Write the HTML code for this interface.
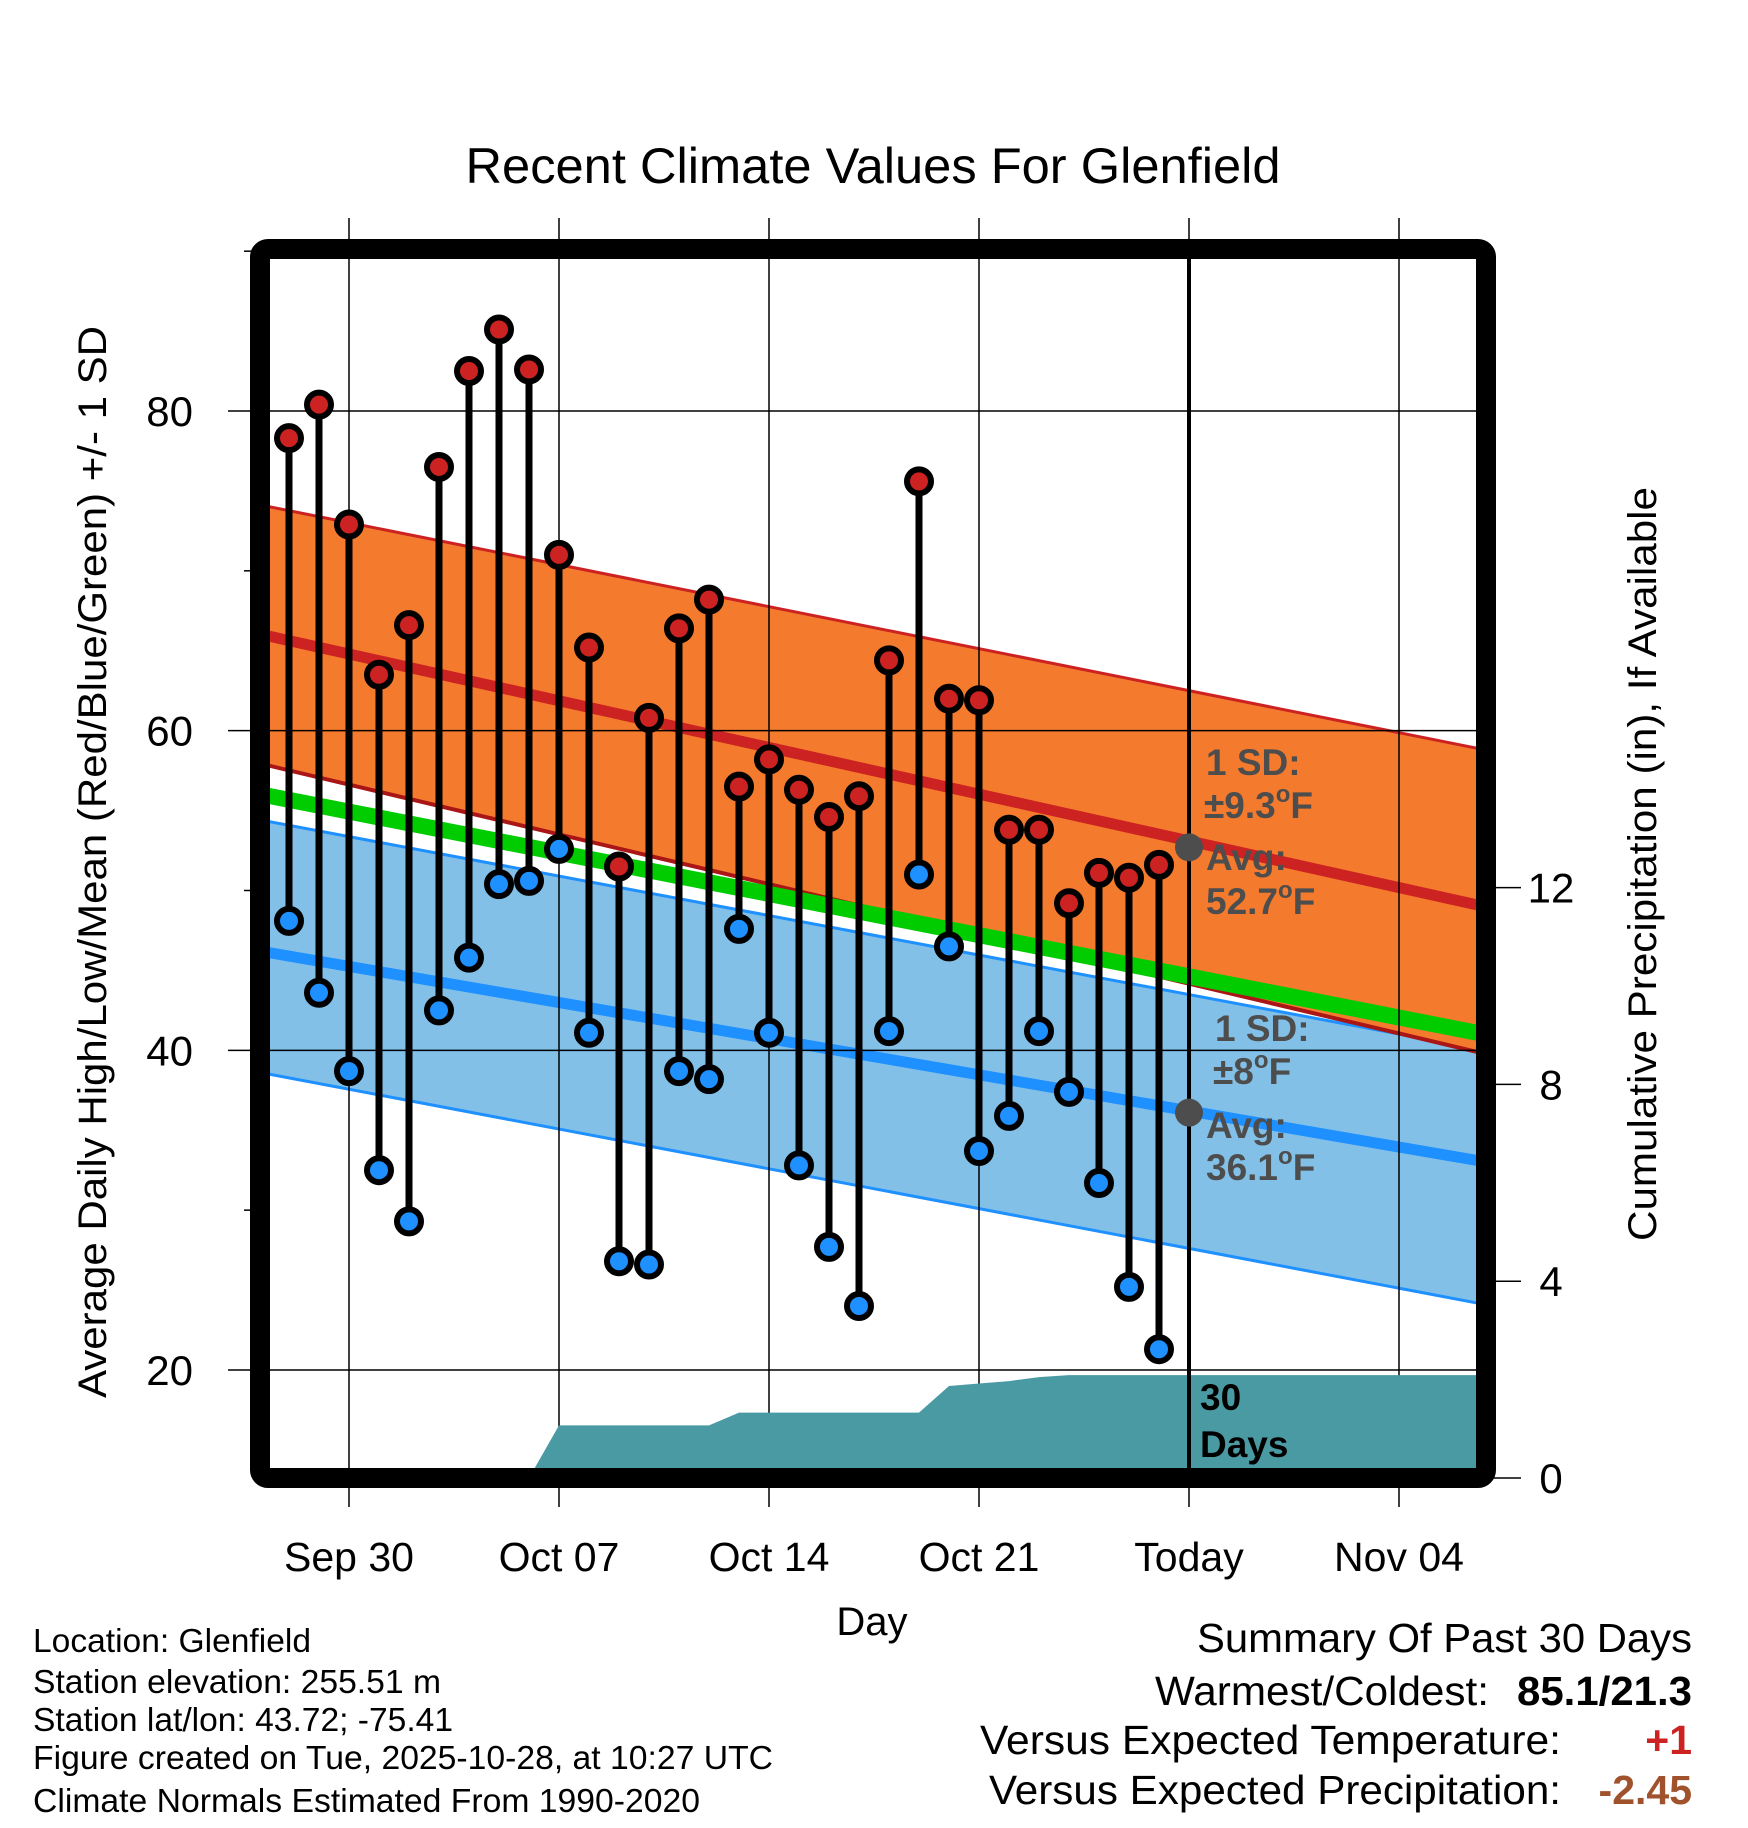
<!DOCTYPE html>
<html><head><meta charset="utf-8"><style>
html,body{margin:0;padding:0;background:#fff;}
svg{display:block;font-family:"Liberation Sans",Arial,sans-serif;}
</style></head><body>
<svg id="chart" width="1748" height="1828" viewBox="0 0 1748 1828" xmlns="http://www.w3.org/2000/svg">
<defs><clipPath id="plotClip"><rect x="270" y="259" width="1207" height="1209"/></clipPath></defs>
<g id="fills" clip-path="url(#plotClip)"></g>
<g id="grid"></g>
<g id="precip" clip-path="url(#plotClip)"></g>
<g id="marks"></g>
<rect x="260" y="249" width="1226" height="1229" rx="8" fill="none" stroke="#000" stroke-width="20"/>
<text x="873" y="183" text-anchor="middle" font-size="50" textLength="815" lengthAdjust="spacingAndGlyphs">Recent Climate Values For Glenfield</text>
<text transform="translate(106,862) rotate(-90)" text-anchor="middle" font-size="40" textLength="1072" lengthAdjust="spacingAndGlyphs">Average Daily High/Low/Mean (Red/Blue/Green) +/- 1 SD</text>
<text transform="translate(1656,864) rotate(-90)" text-anchor="middle" font-size="40" textLength="754" lengthAdjust="spacingAndGlyphs">Cumulative Precipitation (in), If Available</text>
<text x="872" y="1635" text-anchor="middle" font-size="40">Day</text>
<g font-size="33">
<text x="33" y="1652" textLength="278" lengthAdjust="spacingAndGlyphs">Location: Glenfield</text>
<text x="33" y="1693" textLength="408" lengthAdjust="spacingAndGlyphs">Station elevation: 255.51 m</text>
<text x="33" y="1731" textLength="420" lengthAdjust="spacingAndGlyphs">Station lat/lon: 43.72; -75.41</text>
<text x="33" y="1769" textLength="740" lengthAdjust="spacingAndGlyphs">Figure created on Tue, 2025-10-28, at 10:27 UTC</text>
<text x="33" y="1812" textLength="667" lengthAdjust="spacingAndGlyphs">Climate Normals Estimated From 1990-2020</text>
</g>
<g font-size="41">
<text x="1692" y="1652" text-anchor="end" textLength="495" lengthAdjust="spacingAndGlyphs">Summary Of Past 30 Days</text>
<text x="1489" y="1705" text-anchor="end" textLength="334" lengthAdjust="spacingAndGlyphs">Warmest/Coldest:</text>
<text x="1692" y="1705" text-anchor="end" font-weight="bold" textLength="175" lengthAdjust="spacingAndGlyphs">85.1/21.3</text>
<text x="1561" y="1754" text-anchor="end" textLength="581" lengthAdjust="spacingAndGlyphs">Versus Expected Temperature:</text>
<text x="1692" y="1754" text-anchor="end" font-weight="bold" fill="#cc2222">+1</text>
<text x="1561" y="1804" text-anchor="end" textLength="572" lengthAdjust="spacingAndGlyphs">Versus Expected Precipitation:</text>
<text x="1692" y="1804" text-anchor="end" font-weight="bold" fill="#a0522d">-2.45</text>
</g>
<script>
const dayLabels=['Sep 30','Oct 07','Oct 14','Oct 21','Today','Nov 04'];
const dayTicks=[2,9,16,23,30,37];
const yTicks=[20,40,60,80];
const yMinor=[30,50,70,90];
const pTicks=[0,4,8,12];
const highs=[78.3,80.4,72.9,63.5,66.6,76.5,82.5,85.1,82.6,71.0,65.2,51.5,60.8,66.4,68.2,56.5,58.2,56.3,54.6,55.9,64.4,75.6,62.0,61.9,53.8,53.8,49.2,51.1,50.8,51.6];
const lows=[48.1,43.6,38.7,32.5,29.3,42.5,45.8,50.4,50.6,52.6,41.1,26.8,26.6,38.7,38.2,47.6,41.1,32.8,27.7,24.0,41.2,51.0,46.5,33.7,35.9,41.2,37.4,31.7,25.2,21.3];
const precip=[0,0,0,0,0,0,0,0,0,1.07,1.07,1.07,1.07,1.07,1.07,1.33,1.33,1.33,1.33,1.33,1.33,1.33,1.87,1.92,1.97,2.05,2.09,2.09,2.09,2.09];
const normDays=[-1,40];
const hiUpper=[74.14,58.75];
const hiMean=[66.05,48.93];
const hiLower=[57.96,39.72];
const avgMean=[56.04,40.95];
const loUpper=[54.43,39.96];
const loMean=[46.22,32.98];
const loLower=[38.63,24.05];
const todayDay=30;
const todayHighAvg=52.7, todayLowAvg=36.1;

const NS='http://www.w3.org/2000/svg';
const X=d=>289+d*30;
const Y=v=>411+(80-v)*15.983;
const PY=v=>1478-v*49.2;
function mk(tag,attrs,parent){const e=document.createElementNS(NS,tag);for(const k in attrs)e.setAttribute(k,attrs[k]);parent.appendChild(e);return e;}
const fills=document.getElementById('fills'),grid=document.getElementById('grid'),pg=document.getElementById('precip'),marks=document.getElementById('marks'),svg=document.getElementById('chart');
function band(up,lo,fill,name){const p=`${X(normDays[0])},${Y(up[0])} ${X(normDays[1])},${Y(up[1])} ${X(normDays[1])},${Y(lo[1])} ${X(normDays[0])},${Y(lo[0])}`;
 const e=mk('polygon',{points:p,fill:fill},fills);
 
 }
function line(arr,col,w,name){const e=mk('line',{x1:X(normDays[0]),y1:Y(arr[0]),x2:X(normDays[1]),y2:Y(arr[1]),stroke:col,'stroke-width':w},fills);
 
 }
band(loUpper,loLower,'#82c0e8','low-sd-band');
line(loUpper,'#1e90ff',3,'low-upper-line');
line(loLower,'#1e90ff',3,'low-lower-line');
band(hiUpper,hiLower,'#f47a2d','high-sd-band');
line(hiUpper,'#cc2222',3,'high-upper-line');
line(hiLower,'#aa1515',4,'high-lower-line');
line(avgMean,'#00cc00',16,'mean-normal-line');
line(hiMean,'#cc2222',11,'high-normal-line');
line(loMean,'#1e90ff',11,'low-normal-line');
yTicks.forEach(v=>{const e=mk('line',{x1:228,y1:Y(v),x2:1476,y2:Y(v),stroke:'#000','stroke-width':1.5},grid);
 
 
 const t=mk('text',{x:193,y:Y(v)+15,'text-anchor':'end','font-size':42},svg);t.textContent=v;
 
 });
yMinor.forEach(v=>{const e=mk('line',{x1:244,y1:Y(v),x2:252,y2:Y(v),stroke:'#000','stroke-width':1.5},grid);
 
 });
dayTicks.forEach((d,i)=>{const e=mk('line',{x1:X(d),y1:218,x2:X(d),y2:1507,stroke:'#000','stroke-width':1.5},grid);
 
 
 const t=mk('text',{x:X(d),y:1571,'text-anchor':'middle','font-size':41},svg);t.textContent=dayLabels[i];
 
 });
pTicks.forEach(v=>{const e=mk('line',{x1:1486,y1:PY(v),x2:1521,y2:PY(v),stroke:'#000','stroke-width':1.5},svg);
 
 
 const t=mk('text',{x:1551,y:PY(v)+15,'text-anchor':'middle','font-size':42},svg);t.textContent=v;
 
 });
let pts=`${X(0)},${PY(0)} `;precip.forEach((v,i)=>{pts+=`${X(i)},${PY(v)} `;});
pts+=`${X(normDays[1])},${PY(precip[precip.length-1])} ${X(normDays[1])},${PY(0)}`;
const pa=mk('polygon',{points:pts,fill:'#4a9aa4'},pg);


const tl=mk('line',{x1:X(todayDay),y1:259,x2:X(todayDay),y2:1470,stroke:'#000','stroke-width':4},marks);


highs.forEach((h,i)=>{const s=mk('line',{x1:X(i),y1:Y(h),x2:X(i),y2:Y(lows[i]),stroke:'#000','stroke-width':7},marks);
 
 });
highs.forEach((h,i)=>{const c=mk('circle',{cx:X(i),cy:Y(h),r:12,fill:'#cc2222',stroke:'#000','stroke-width':6},marks);
 
 
 const c2=mk('circle',{cx:X(i),cy:Y(lows[i]),r:12,fill:'#1e90ff',stroke:'#000','stroke-width':6},marks);
 
 });
[[todayHighAvg,'today-high-avg-dot'],[todayLowAvg,'today-low-avg-dot']].forEach(a=>{const c=mk('circle',{cx:X(todayDay),cy:Y(a[0]),r:14,fill:'#4d4d4d'},marks);
 
 });
</script>
<g font-size="37" font-weight="bold" fill="#4d4d4d">
<text x="1206" y="775">1 SD:</text>
<text x="1204" y="818">±9.3<tspan font-size="24" dy="-16">o</tspan><tspan dy="16">F</tspan></text>
<text x="1206" y="870">Avg:</text>
<text x="1206" y="914">52.7<tspan font-size="24" dy="-16">o</tspan><tspan dy="16">F</tspan></text>
<text x="1215" y="1041">1 SD:</text>
<text x="1213" y="1084">±8<tspan font-size="24" dy="-16">o</tspan><tspan dy="16">F</tspan></text>
<text x="1206" y="1138">Avg:</text>
<text x="1206" y="1180">36.1<tspan font-size="24" dy="-16">o</tspan><tspan dy="16">F</tspan></text>
</g>
<g font-size="37" font-weight="bold" fill="#000">
<text x="1200" y="1410">30</text>
<text x="1200" y="1457">Days</text>
</g>
</svg>
</body></html>
